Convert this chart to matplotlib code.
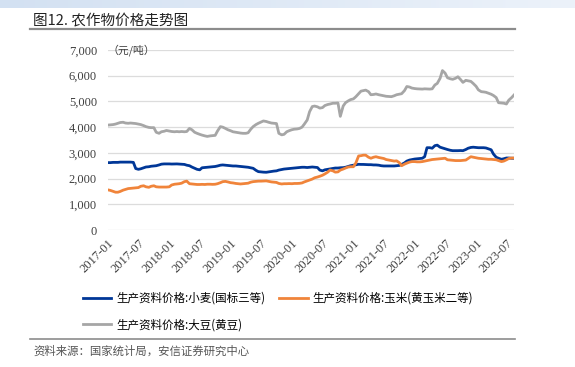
import numpy as np
import pandas as pd
import matplotlib
matplotlib.use('Agg')
import matplotlib.pyplot as plt

plt.rcParams['font.family'] = ['Noto Sans CJK SC', 'DejaVu Sans']

# semi-monthly observations, 2017-01 .. 2023-08
dates = pd.date_range('2017-01-01', '2023-08-15', freq='SMS')

wheat = [
    2620, 2620, 2630, 2630, 2630, 2640, 2640, 2640, 2640, 2640,
    2630, 2390, 2360, 2380, 2420, 2450, 2460, 2480, 2490, 2500,
    2530, 2560, 2570, 2570, 2570, 2565, 2570, 2570, 2565, 2560,
    2550, 2520, 2500, 2450, 2400, 2360, 2340, 2420, 2430, 2440,
    2450, 2460, 2470, 2490, 2520, 2530, 2520, 2510, 2500, 2490,
    2490, 2480, 2470, 2460, 2450, 2440, 2420, 2400, 2320, 2270,
    2260, 2250, 2245, 2260, 2280, 2290, 2300, 2330, 2350, 2370,
    2380, 2390, 2400, 2410, 2420, 2430, 2440, 2440, 2430, 2440,
    2450, 2440, 2430, 2330, 2300, 2340, 2360, 2380, 2400, 2410,
    2410, 2420, 2425, 2440, 2470, 2500, 2520, 2540, 2555, 2550,
    2550, 2545, 2540, 2540, 2530, 2530, 2520, 2500, 2490, 2490,
    2490, 2490, 2490, 2500, 2510, 2550, 2610, 2680, 2720, 2740,
    2760, 2770, 2780, 2790, 2850, 3200, 3200, 3180, 3280, 3300,
    3220, 3190, 3160, 3130, 3100, 3085, 3085, 3085, 3090, 3085,
    3130, 3180, 3210, 3220, 3210, 3200, 3200, 3200, 3190, 3160,
    3120, 2950, 2830, 2790, 2750, 2770, 2800, 2800, 2790, 2790,
]

corn = [
    1560, 1540, 1500, 1470, 1470, 1500, 1550, 1580, 1610, 1620,
    1630, 1640, 1650, 1700, 1720, 1680, 1660, 1700, 1720, 1680,
    1670, 1670, 1670, 1670, 1680, 1750, 1780, 1790, 1800, 1820,
    1880, 1900, 1800, 1790, 1780, 1770, 1770, 1775, 1770, 1780,
    1780, 1775, 1780, 1800, 1840, 1880, 1890, 1870, 1840, 1830,
    1810, 1800, 1790, 1800, 1810, 1820, 1860, 1880, 1890, 1900,
    1900, 1905, 1910, 1890, 1870, 1860, 1850, 1810, 1790, 1800,
    1800, 1805, 1800, 1810, 1810, 1815, 1830, 1870, 1910, 1945,
    1980, 2030, 2060, 2090, 2130, 2180, 2250, 2330, 2300, 2250,
    2260, 2330, 2370, 2410, 2450, 2460, 2460, 2600, 2880, 2890,
    2910, 2910, 2830, 2790, 2830, 2850, 2820, 2800, 2780, 2740,
    2720, 2700, 2680, 2690, 2620, 2500, 2560, 2600, 2640, 2660,
    2660, 2650, 2650, 2660, 2680, 2700, 2720, 2740, 2750, 2760,
    2770, 2780, 2790, 2730, 2720, 2710, 2700, 2700, 2700, 2710,
    2720, 2780, 2850, 2830, 2810, 2790, 2780, 2770, 2760, 2750,
    2750, 2740, 2730, 2700, 2660, 2680, 2730, 2780, 2800, 2800,
]

soybean = [
    4080, 4090, 4100, 4120, 4150, 4180, 4190, 4160, 4150, 4160,
    4150, 4140, 4120, 4100, 4060, 4020, 3990, 3980, 3980, 3800,
    3760, 3820, 3840, 3870, 3850, 3830, 3820, 3830, 3820, 3830,
    3820, 3830, 3950, 3900, 3800, 3760, 3720, 3690, 3660, 3640,
    3660, 3670, 3680, 3850, 4020, 4000, 3950, 3900, 3860, 3820,
    3800, 3780, 3770, 3760, 3760, 3780, 3920, 4020, 4100, 4150,
    4200, 4240, 4220, 4190, 4160, 4150, 4140, 3760, 3700, 3720,
    3820, 3860, 3900, 3920, 3930, 3950, 4000, 4120, 4280, 4600,
    4800, 4820, 4790, 4740, 4760, 4840, 4880, 4900, 4930, 4930,
    4940, 4420, 4820, 4950, 5020, 5070, 5100, 5180, 5300, 5400,
    5420, 5440, 5380, 5260, 5270, 5290, 5260, 5240, 5220, 5200,
    5190, 5185, 5220, 5260, 5280, 5300, 5420, 5580, 5560, 5520,
    5500, 5490, 5485, 5480, 5490, 5485, 5480, 5490, 5640, 5700,
    5900, 6200, 6100, 5920, 5880, 5860, 5900, 5960, 5850, 5740,
    5820, 5800, 5780, 5700, 5590, 5450, 5380, 5370, 5355, 5320,
    5280, 5230, 5150, 4950, 4940, 4930, 4900, 5050, 5150, 5250,
]

labels = ['生产资料价格:小麦(国标三等)', '生产资料价格:玉米(黄玉米二等)', '生产资料价格:大豆(黄豆)']
colors = ['#003797', '#f0843a', '#a6a6a6']
tick_dates = pd.date_range('2017-01-01', '2023-07-01', freq='6MS')
yticks = np.arange(0, 7001, 1000)

fig = plt.figure(figsize=(5.75, 3.67), dpi=100)

# light blue band at the top
band = fig.add_axes([0, 1 - 8 / 367, 1, 8 / 367])
grad = np.linspace(0, 1, 256).reshape(1, -1)
band.imshow(grad, aspect='auto', cmap=matplotlib.colors.LinearSegmentedColormap.from_list(
    'b', ['#d3e1f2', '#ecf2fa']), extent=[0, 1, 0, 1])
band.axis('off')

fig.text(33 / 575, 1 - 20 / 367, '图12. 农作物价格走势图', fontsize=10.5, va='center',
         ha='left', color='#222222')
fig.add_artist(plt.Line2D([30 / 575, 515 / 575], [1 - 29 / 367] * 2, color='#8c8c8c', lw=1.6))
fig.add_artist(plt.Line2D([30 / 575, 515 / 575], [1 - 339 / 367] * 2, color='#8c8c8c', lw=1.2))
fig.text(33 / 575, 1 - 351 / 367, '资料来源：国家统计局，安信证券研究中心', fontsize=8.2, va='center',
         ha='left', color='#555555', style='italic')

ax = fig.add_axes([108 / 575, 1 - 230 / 367, 406 / 575, 180 / 367])
lines = []
for vals, lab, c in zip([wheat, corn, soybean], labels, colors):
    ln, = ax.plot(dates, vals, color=c, lw=2.0, label=lab, solid_joinstyle='round')
    lines.append(ln)

ax.set_xlim(pd.Timestamp('2017-01-01'), pd.Timestamp('2023-08-15'))
ax.set_ylim(0, 7000)
ax.set_yticks(yticks)
ax.set_yticklabels([f'{v:,}' for v in yticks], family='Liberation Serif', fontsize=9, color='#404040')
ax.set_xticks(tick_dates)
ax.set_xticklabels([d.strftime('%Y-%m') for d in tick_dates], rotation=45, ha='right', va='top',
                   rotation_mode='anchor', family='Liberation Serif', fontsize=9, color='#404040')
ax.tick_params(axis='y', length=0, pad=8)
ax.tick_params(axis='x', length=0, pad=5)
ax.grid(axis='y', color='#dcdcdc', lw=0.9)
ax.set_axisbelow(True)
for s in ax.spines.values():
    s.set_visible(False)

ax.text(0.0, 7000, '（元/吨）', fontsize=7.8, va='center', ha='left', color='#404040',
        transform=ax.get_yaxis_transform())

ax.legend([lines[0], lines[2], lines[1]], [labels[0], labels[2], labels[1]], ncol=2,
          frameon=False, loc='upper left', bbox_transform=fig.transFigure,
          bbox_to_anchor=(78 / 575, 1 - 287 / 367), fontsize=8.3, handlelength=2.5,
          handletextpad=0.4, columnspacing=1.2, labelspacing=1.2, borderaxespad=0)

fig.savefig('out.png', dpi=100)
